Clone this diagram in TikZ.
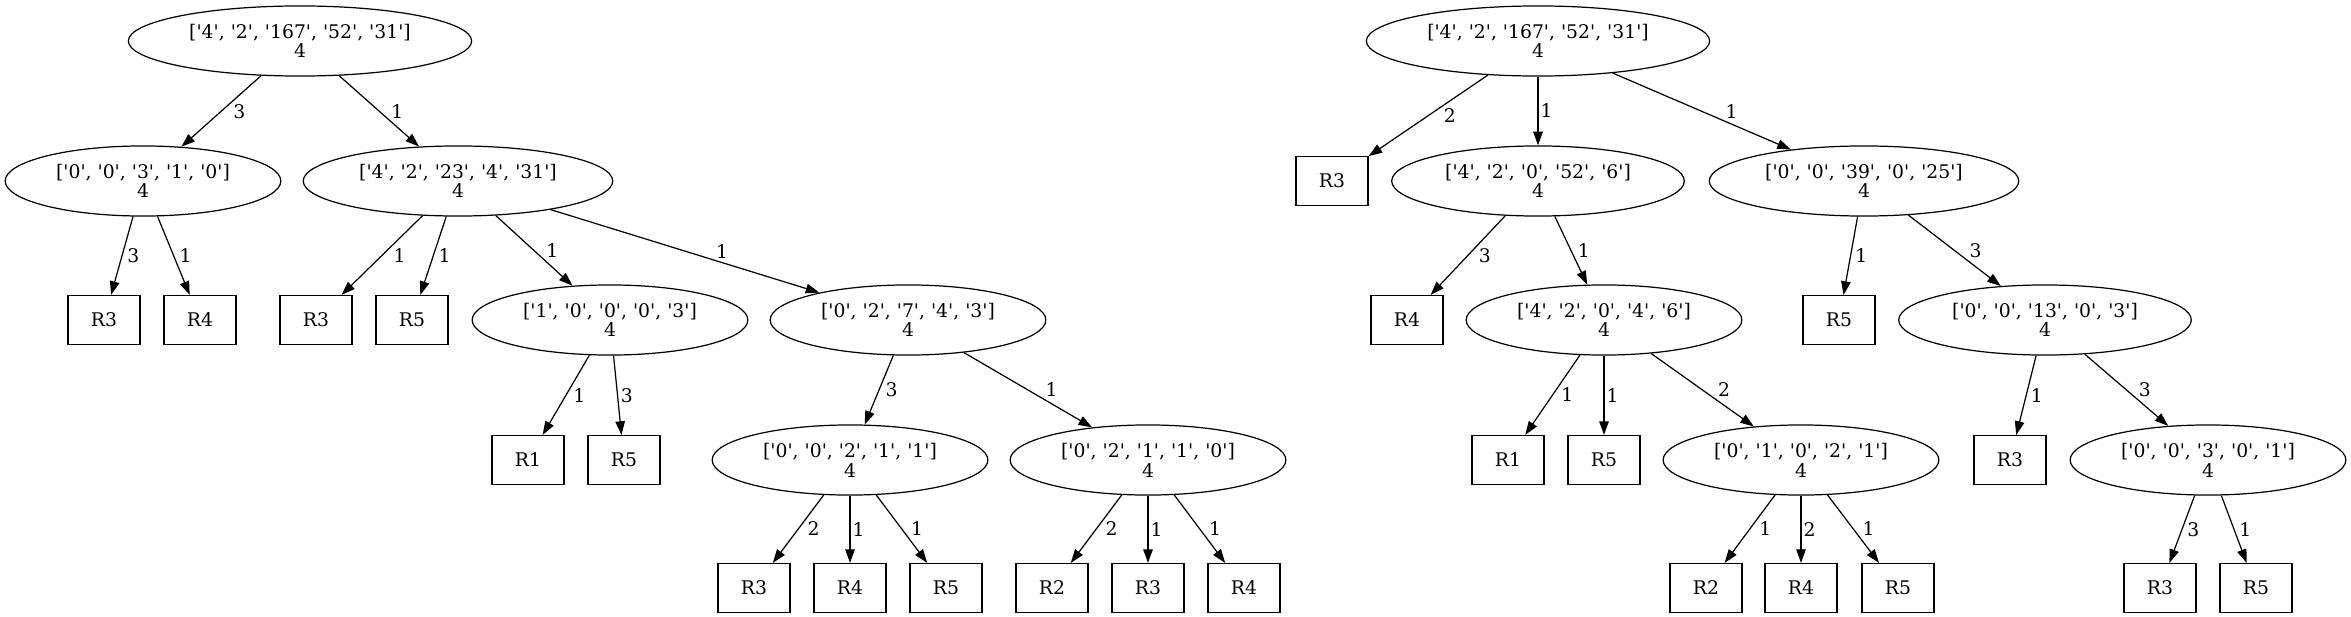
\documentclass[tikz,border=0pt]{standalone}
\usepackage{fontspec}
\setmainfont{DejaVu Serif}
\usetikzlibrary{arrows.meta,shapes.geometric}
\newcommand{\qv}[1]{\textquotesingle#1\textquotesingle}

\begin{document}
\begin{tikzpicture}[x=0.735pt,y=-0.735pt,
  font=\fontsize{13.8}{14.5}\selectfont,>={Triangle[length=10pt,width=7pt]},
  vecnode/.style={ellipse,draw,line width=0.9pt,align=center,
    inner xsep=7.8pt,inner ysep=2pt,minimum height=51.5pt},
  leafbox/.style={rectangle,draw,line width=0.9pt,
    minimum width=53pt,minimum height=36pt,inner sep=0pt},
  link/.style={->,line width=0.9pt},
  lbl/.style={anchor=west,inner sep=0pt,xshift=1.5pt+#1},
  lbl/.default=0pt]
  \useasboundingbox (0,0) rectangle (2351,617);

  % Left tree
  \node[vecnode] (A0) at (300,41) {[\qv4, \qv2, \qv{167}, \qv{52}, \qv{31}]\\4};
  \node[vecnode] (A1) at (143,181) {[\qv0, \qv0, \qv3, \qv1, \qv0]\\4};
  \node[vecnode] (A2) at (458,181) {[\qv4, \qv2, \qv{23}, \qv4, \qv{31}]\\4};
  \node[leafbox] (A1a) at (104,320) {R3};
  \node[leafbox] (A1b) at (200,320) {R4};
  \node[leafbox] (A2a) at (316,320) {R3};
  \node[leafbox] (A2b) at (412,320) {R5};
  \node[vecnode] (A3) at (610,320) {[\qv1, \qv0, \qv0, \qv0, \qv3]\\4};
  \node[vecnode] (A4) at (908,320) {[\qv0, \qv2, \qv7, \qv4, \qv3]\\4};
  \node[leafbox] (A3a) at (528,460) {R1};
  \node[leafbox] (A3b) at (624,460) {R5};
  \node[vecnode] (A5) at (850,460) {[\qv0, \qv0, \qv2, \qv1, \qv1]\\4};
  \node[vecnode] (A6) at (1148,460) {[\qv0, \qv2, \qv1, \qv1, \qv0]\\4};
  \node[leafbox] (A5a) at (754,588) {R3};
  \node[leafbox] (A5b) at (850,588) {R4};
  \node[leafbox] (A5c) at (946,588) {R5};
  \node[leafbox] (A6a) at (1052,588) {R2};
  \node[leafbox] (A6b) at (1148,588) {R3};
  \node[leafbox] (A6c) at (1244,588) {R4};

  \draw[link] (A0) -- node[lbl=7pt] {3} (A1);
  \draw[link] (A0) -- node[lbl=7pt] {1} (A2);
  \draw[link] (A1) -- node[lbl=2pt] {3} (A1a);
  \draw[link] (A1) -- node[lbl=2.5pt] {1} (A1b);
  \draw[link] (A2) -- node[lbl=6.5pt] {1} (A2a);
  \draw[link] (A2) -- node[lbl=2pt] {1} (A2b);
  \draw[link] (A2) -- node[lbl=7pt] {1} (A3);
  \draw[link] (A2) -- node[lbl=21pt] {1} (A4);
  \draw[link] (A3) -- node[lbl=3.5pt] {1} (A3a);
  \draw[link] (A3) -- node[lbl=0.5pt] {3} (A3b);
  \draw[link] (A4) -- node[lbl=3pt] {3} (A5);
  \draw[link] (A4) -- node[lbl=11pt] {1} (A6);
  \draw[link] (A5) -- node[lbl=5pt] {2} (A5a);
  \draw[link] (A5) -- node[lbl] {1} (A5b);
  \draw[link] (A5) -- node[lbl=5pt] {1} (A5c);
  \draw[link] (A6) -- node[lbl=5pt] {2} (A6a);
  \draw[link] (A6) -- node[lbl] {1} (A6b);
  \draw[link] (A6) -- node[lbl=5pt] {1} (A6c);

  % Right tree
  \node[vecnode] (B0) at (1538,41) {[\qv4, \qv2, \qv{167}, \qv{52}, \qv{31}]\\4};
  \node[leafbox] (B0a) at (1332,181) {R3};
  \node[vecnode] (B1) at (1538,181) {[\qv4, \qv2, \qv0, \qv{52}, \qv6]\\4};
  \node[vecnode] (B2) at (1864,181) {[\qv0, \qv0, \qv{39}, \qv0, \qv{25}]\\4};
  \node[leafbox] (B1a) at (1407,320) {R4};
  \node[vecnode] (B3) at (1604,320) {[\qv4, \qv2, \qv0, \qv4, \qv6]\\4};
  \node[leafbox] (B2a) at (1839,320) {R5};
  \node[vecnode] (B4) at (2045,320) {[\qv0, \qv0, \qv{13}, \qv0, \qv3]\\4};
  \node[leafbox] (B3a) at (1508,460) {R1};
  \node[leafbox] (B3b) at (1604,460) {R5};
  \node[vecnode] (B5) at (1801,460) {[\qv0, \qv1, \qv0, \qv2, \qv1]\\4};
  \node[leafbox] (B4a) at (2010,460) {R3};
  \node[vecnode] (B6) at (2208,460) {[\qv0, \qv0, \qv3, \qv0, \qv1]\\4};
  \node[leafbox] (B5a) at (1706,588) {R2};
  \node[leafbox] (B5b) at (1801,588) {R4};
  \node[leafbox] (B5c) at (1898,588) {R5};
  \node[leafbox] (B6a) at (2160,588) {R3};
  \node[leafbox] (B6b) at (2256,588) {R5};

  \draw[link] (B0) -- node[lbl=9.5pt] {2} (B0a);
  \draw[link] (B0) -- node[lbl] {1} (B1);
  \draw[link] (B0) -- node[lbl=15.5pt] {1} (B2);
  \draw[link] (B1) -- node[lbl=6pt] {3} (B1a);
  \draw[link] (B1) -- node[lbl=3pt] {1} (B3);
  \draw[link] (B2) -- node[lbl=1.5pt] {1} (B2a);
  \draw[link] (B2) -- node[lbl=9pt] {3} (B4);
  \draw[link] (B3) -- node[lbl=4.5pt] {1} (B3a);
  \draw[link] (B3) -- node[lbl] {1} (B3b);
  \draw[link] (B3) -- node[lbl=9.5pt] {2} (B5);
  \draw[link] (B4) -- node[lbl=1.5pt] {1} (B4a);
  \draw[link] (B4) -- node[lbl=7pt] {3} (B6);
  \draw[link] (B5) -- node[lbl=5pt] {1} (B5a);
  \draw[link] (B5) -- node[lbl] {2} (B5b);
  \draw[link] (B5) -- node[lbl=5pt] {1} (B5c);
  \draw[link] (B6) -- node[lbl=2pt] {3} (B6a);
  \draw[link] (B6) -- node[lbl=2pt] {1} (B6b);
\end{tikzpicture}
\end{document}
